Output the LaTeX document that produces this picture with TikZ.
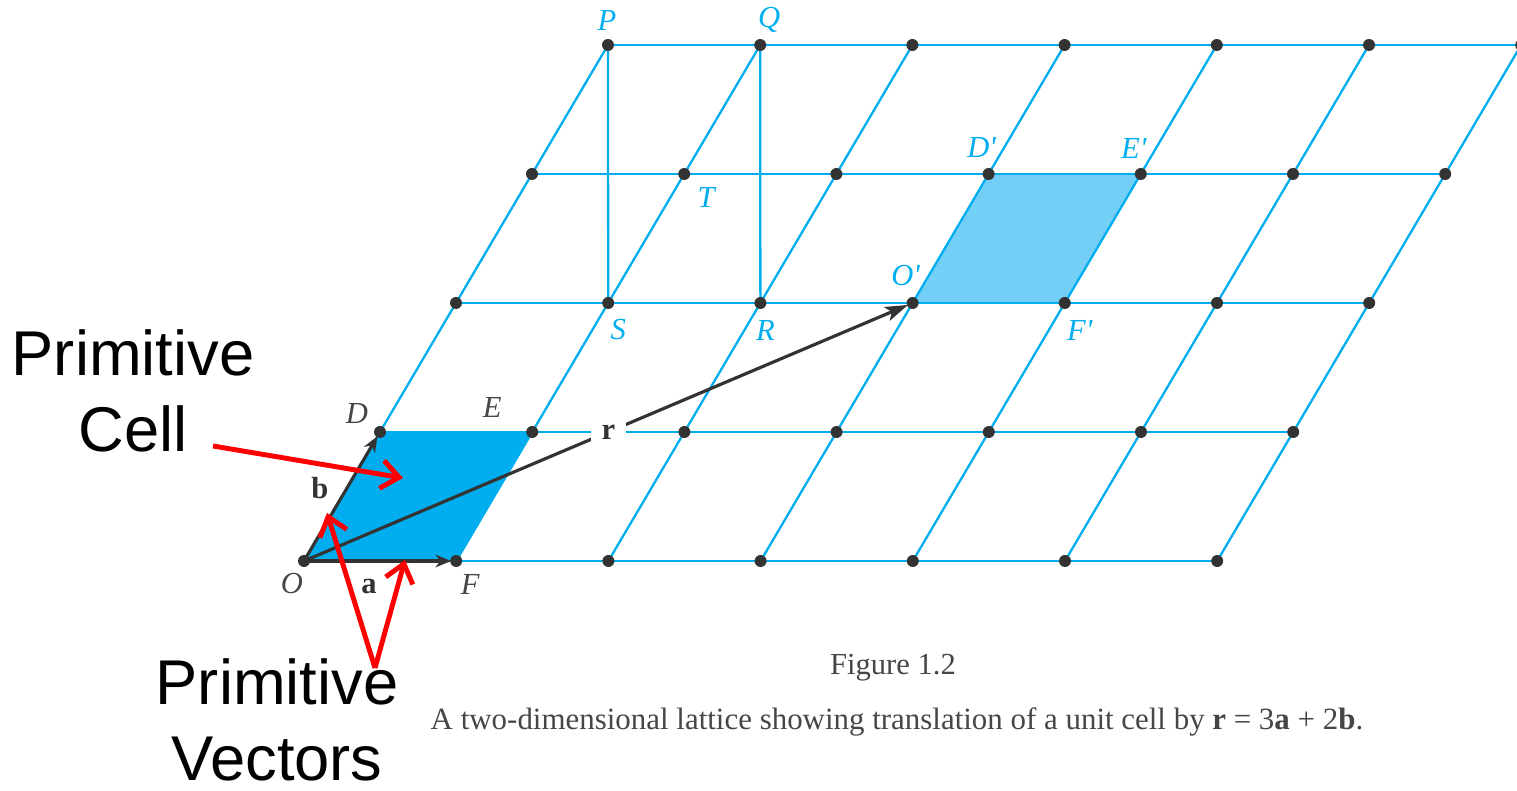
\documentclass[tikz,border=0pt]{standalone}
\usepackage{fontspec}
\setmainfont{Liberation Serif}
\newfontfamily\notefont{Liberation Sans}
\usepackage{xcolor}
\usepackage{tikz}
\usetikzlibrary{arrows.meta}
\definecolor{latcyan}{RGB}{0,174,239}
\definecolor{cellcyan}{RGB}{115,207,245}
\definecolor{dotgray}{RGB}{51,51,51}
\definecolor{labgray}{RGB}{70,70,70}
\newcommand{\pr}{\textquotesingle}

\begin{document}
\begin{tikzpicture}[every node/.style={font=\fontsize{8.7}{10.5}\selectfont},
  latline/.style={latcyan,line width=0.65pt},
  vec/.style={dotgray,line width=0.9pt,shorten >=0.05cm,-{Stealth[length=4.5pt,width=3.6pt]}},
  rvec/.style={dotgray,line width=0.9pt,shorten >=0.05cm,-{Stealth[length=6.5pt,width=4.2pt,inset=1.5pt]}},
  cyanlab/.style={text=latcyan,font=\fontsize{8.7}{10.5}\selectfont\itshape},
  graylab/.style={text=labgray,font=\fontsize{8.7}{10.5}\selectfont\itshape},
  redarr/.style={red,line width=1.4pt,-{Straight Barb[length=5pt,width=8pt]}},
  note/.style={align=center,font=\fontsize{18}{21.8}\selectfont\notefont}]
  \clip (0,0) rectangle (15.17,7.91);
  % ---- lattice points p<i><j> = O + i a + j b ----
  \foreach \i in {0,...,6}{
    \foreach \j in {0,...,4}{
      \coordinate (p\i\j) at ({3.04+1.522*\i+0.76*\j},{2.30+1.29*\j});
    }
  }
  % unit cell at O and its translate at O'
  \fill[latcyan] (p00)--(p10)--(p11)--(p01)--cycle;
  \fill[cellcyan] (p32)--(p42)--(p43)--(p33)--cycle;
  % ---- lattice lines ----
  \foreach \j in {0,...,4} \draw[latline] (p0\j)--(p6\j);
  \foreach \i in {0,...,6} \draw[latline] (p\i0)--(p\i4);
  \draw[latline] (p04)--(p12) (p14)--(p22);
  % ---- primitive vectors and translation ----
  \draw[vec] (p00)--(p10);
  \draw[vec] (p00)--(p01);
  \draw[rvec] (p00)--(p32) node[midway,fill=white,inner xsep=0.11cm,inner ysep=1pt,font=\fontsize{8.7}{10.5}\selectfont\bfseries] (rlab) {r};
  \foreach \i in {0,...,6}{
    \foreach \j in {0,...,4}{
      \fill[dotgray] (p\i\j) circle (0.06);
    }
  }
  % ---- point labels ----
  \node[cyanlab] (labP) at ([xshift=-0.01cm,yshift=0.25cm]p04) {P};
  \node[cyanlab] (labQ) at ([xshift=0.09cm,yshift=0.25cm]p14) {Q};
  \node[cyanlab] (labT) at ([xshift=0.22cm,yshift=-0.23cm]p13) {T};
  \node[cyanlab] (labS) at ([xshift=0.10cm,yshift=-0.27cm]p12) {S};
  \node[cyanlab] (labR) at ([xshift=0.05cm,yshift=-0.27cm]p22) {R};
  \node[cyanlab] (labDp) at ([xshift=-0.07cm,yshift=0.26cm]p33) {D\pr};
  \node[cyanlab] (labEp) at ([xshift=-0.07cm,yshift=0.26cm]p43) {E\pr};
  \node[cyanlab] (labOp) at ([xshift=-0.07cm,yshift=0.27cm]p32) {O\pr};
  \node[cyanlab] (labFp) at ([xshift=0.15cm,yshift=-0.27cm]p42) {F\pr};
  \node[graylab] (labD) at ([xshift=-0.23cm,yshift=0.18cm]p01) {D};
  \node[graylab] (labE) at ([xshift=-0.40cm,yshift=0.24cm]p11) {E};
  \node[graylab] (labO) at ([xshift=-0.12cm,yshift=-0.23cm]p00) {O};
  \node[graylab] (labF) at ([xshift=0.14cm,yshift=-0.23cm]p10) {F};
  \node[text=dotgray,font=\fontsize{8.7}{10.5}\selectfont\bfseries] (laba) at ([xshift=0.65cm,yshift=-0.25cm]p00) {a};
  \node[text=dotgray,font=\fontsize{8.7}{10.5}\selectfont\bfseries] (labb) at ([xshift=0.16cm,yshift=0.73cm]p00) {b};
  % ---- annotations ----
  \node[note] (cellnote) at (1.33,4.0) {Primitive\\Cell};
  \node[note] (vecnote) at (2.77,0.71) {Primitive\\Vectors};
  \coordinate (cellTail) at (2.13,3.45);
  \coordinate (cellTip) at (4.03,3.13);
  \coordinate (vecTail) at (3.75,1.23);
  \coordinate (tipB) at (3.27,2.78);
  \coordinate (tipA) at (4.05,2.31);
  \draw[redarr] (cellTail)--(cellTip);
  \draw[redarr] (vecTail)--(tipB);
  \draw[redarr] (vecTail)--(tipA);
  % ---- caption ----
  \node[text=labgray] (figno) at (8.93,1.23) {Figure 1.2};
  \node[text=labgray,font=\fontsize{8.8}{10.5}\selectfont] (caption) at (8.97,0.69) {A two-dimensional lattice showing translation of a unit cell by \textbf{r} = 3\textbf{a} + 2\textbf{b}.};
\end{tikzpicture}
\end{document}
